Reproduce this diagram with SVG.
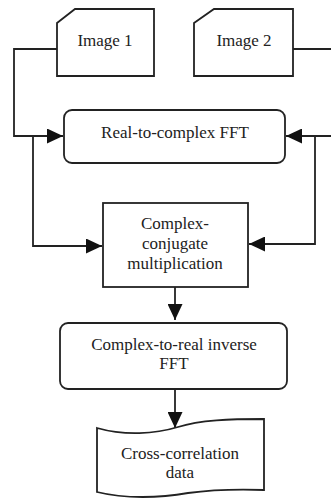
<svg xmlns="http://www.w3.org/2000/svg" width="331" height="502" viewBox="0 0 331 502">
<defs>
<style>
.s{fill:#fff;stroke:#222;stroke-width:1.8}
.c{fill:none;stroke:#222;stroke-width:1.8}
text{font-family:"Liberation Serif","Times New Roman",serif;font-size:17px;fill:#222;text-anchor:middle}
</style>
<marker id="ah" markerUnits="userSpaceOnUse" markerWidth="17" markerHeight="15" refX="16" refY="7.5" orient="auto">
<path d="M0,0 L16,7.5 L0,15 Z" fill="#111"/>
</marker>
</defs>
<rect width="331" height="502" fill="#fff"/>
<g id="connectors">
<path class="c" d="M57,49 H14 V136 H63" marker-end="url(#ah)"/>
<path class="c" d="M293,49 H331"/>
<path class="c" d="M331,136 H286" marker-end="url(#ah)"/>
<path class="c" d="M33,137 V246 H102" marker-end="url(#ah)"/>
<path class="c" d="M315,137 V244 H249" marker-end="url(#ah)"/>
<path class="c" d="M175,287 V320" marker-end="url(#ah)"/>
<path class="c" d="M175,389 V428" marker-end="url(#ah)"/>
</g>
<g id="image1">
<path class="s" d="M57,23 L75,9 H154 V76 H57 Z"/>
<text x="105" y="46">Image 1</text>
</g>
<g id="image2">
<path class="s" d="M194,23 L214,9 H293 V76 H194 Z"/>
<text x="244" y="46">Image 2</text>
</g>
<g id="fft">
<rect class="s" x="64" y="110" width="221" height="53" rx="8"/>
<text x="175" y="138">Real-to-complex FFT</text>
</g>
<g id="mult">
<rect class="s" x="103" y="203" width="145" height="84"/>
<text x="175" y="229">Complex-</text>
<text x="175" y="249">conjugate</text>
<text x="175" y="269">multiplication</text>
</g>
<g id="ifft">
<rect class="s" x="60" y="323" width="227" height="66" rx="8"/>
<text x="174" y="350">Complex-to-real inverse</text>
<text x="174" y="369">FFT</text>
</g>
<g id="data">
<path class="s" d="M97,428 C125,436 155,434 178,427 C200,420 230,419 264,419 V490 C235,489 210,490 188,493 C160,498 125,499 97,492 Z"/>
<text x="180" y="459">Cross-correlation</text>
<text x="180" y="478">data</text>
</g>
</svg>
